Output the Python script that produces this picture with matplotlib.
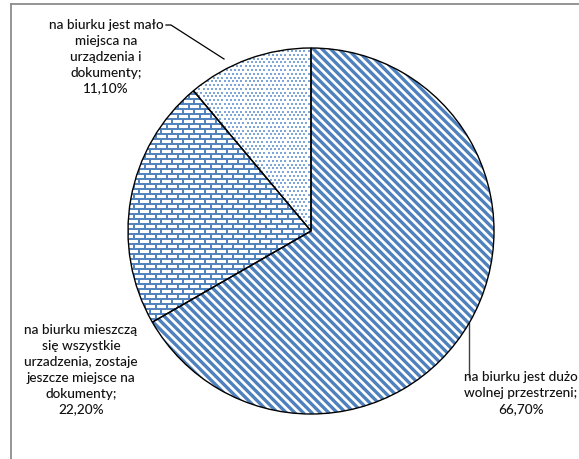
import numpy as np
import matplotlib
matplotlib.use("Agg")
import matplotlib.pyplot as plt
from matplotlib.collections import LineCollection
from matplotlib.lines import Line2D
from matplotlib.patches import Wedge

labels = [
    "na biurku jest dużo\nwolnej przestrzeni;\n66,70%",
    "na biurku mieszczą\nsię wszystkie\nurzadzenia, zostaje\njeszcze miejsce na\ndokumenty;\n22,20%",
    "na biurku jest mało\nmiejsca na\nurządzenia i\ndokumenty;\n11,10%",
]
values = [66.7, 22.2, 11.1]

W, H = 579, 459
BLUE = "#4F81BD"
plt.rcParams["font.family"] = ["Lato", "DejaVu Sans"]

fig = plt.figure(figsize=(W / 100, H / 100), dpi=100)
ax = fig.add_axes([0, 0, 1, 1])

cx, cy, R = 311, H - 231, 183
wedges, _ = ax.pie(values, startangle=90, counterclock=False, center=(cx, cy),
                   radius=R, frame=False,
                   wedgeprops=dict(facecolor="white", edgecolor="none"))
ax.set_xlim(0, W)
ax.set_ylim(0, H)
ax.set_aspect("auto")
ax.axis("off")

# pattern 0: diagonal stripes (top-left to bottom-right)
segs = []
period = 8.5
c = (cx - R) + (cy - R) - 2
while c < (cx + R) + (cy + R) + 2:
    segs.append([(c - (cy + R), cy + R), (c - (cy - R), cy - R)])
    c += period
lc0 = LineCollection(segs, colors=BLUE, linewidths=2.4, zorder=2)
ax.add_collection(lc0)
lc0.set_clip_path(wedges[0])

# pattern 1: bricks
segs = []
rh, bw = 5.0, 11.0
row = 0
y = cy - R
while y < cy + R:
    segs.append([(cx - R, y), (cx + R, y)])
    off = (row % 2) * bw / 2
    x = cx - R + off
    while x < cx + R:
        segs.append([(x, y), (x, y + rh)])
        x += bw
    y += rh
    row += 1
lc1 = LineCollection(segs, colors=BLUE, linewidths=1.4, zorder=2)
ax.add_collection(lc1)
lc1.set_clip_path(wedges[1])

# pattern 2: dots
xs, ys = [], []
sp = 4.2
r = 0
yy = cy - R
while yy < cy + R:
    off = (r % 2) * sp / 2
    xx = cx - R + off
    while xx < cx + R:
        xs.append(xx); ys.append(yy)
        xx += sp
    yy += sp * 0.9
    r += 1
sc = ax.scatter(xs, ys, s=1.3, marker="s", color="#7FA6D8", linewidths=0, zorder=2)
sc.set_clip_path(wedges[2])

# outlines
for w in wedges:
    ax.add_patch(Wedge(w.center, w.r, w.theta1, w.theta2, facecolor="none",
                       edgecolor="black", linewidth=1.0, zorder=3))

txt = dict(ha="center", va="center", fontsize=9.8, linespacing=1.38,
           color="#111111", fontweight="medium")
ax.text(521, H - 393, labels[0], **txt)
ax.text(81, H - 370, labels[1], **txt)
ax.text(106, H - 57, labels[2], **txt)

# leader lines
ax.plot([469, 469], [H - 323, H - 377], color="#404040", lw=1.0)
ax.plot([166, 171, 224], [H - 25, H - 25, H - 59], color="black", lw=0.9)

# frame
fig.add_artist(Line2D([11, W + 5], [H - 4, H - 4], transform=None, color="#8c8c8c", lw=1.3))
fig.add_artist(Line2D([11, 11], [H - 4, -5], transform=None, color="#8c8c8c", lw=1.3))

fig.savefig("out.png", dpi=100)
